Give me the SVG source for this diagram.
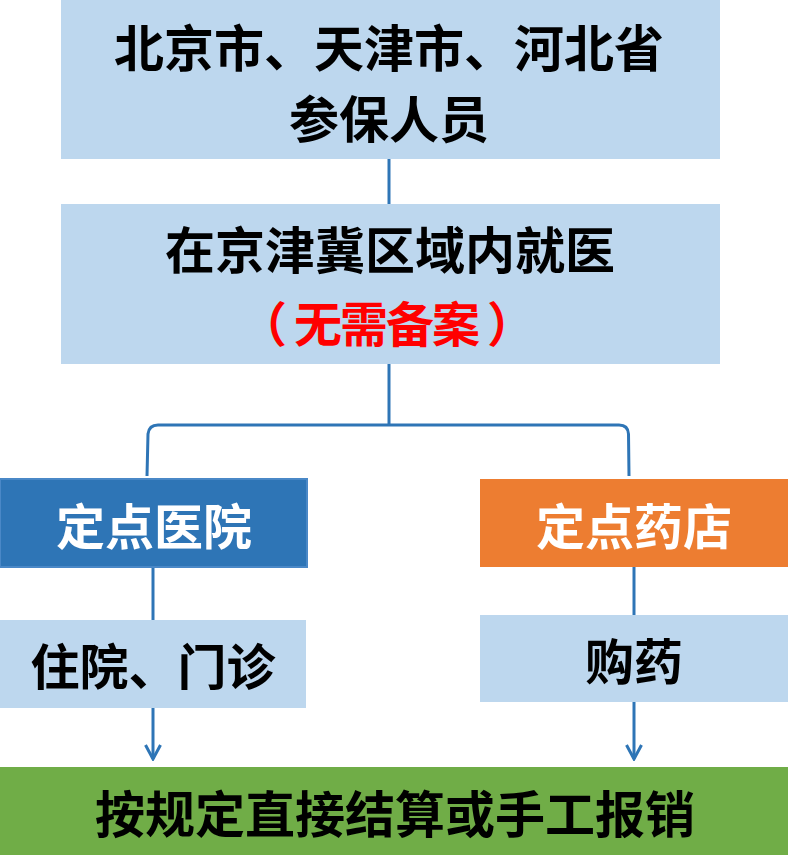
<svg xmlns="http://www.w3.org/2000/svg" width="788" height="855" viewBox="0 0 788 855">
<style>
.lb{fill:#BDD7EE}
.t{font-family:"Noto Sans CJK SC","Noto Sans CJK TC",sans-serif;font-weight:bold;text-anchor:middle;dominant-baseline:central}
.blk{fill:#000}
.wht{fill:#fff}
.red{fill:#FF0000}
.c{fill:none;stroke:#2E75B6;stroke-width:3}
</style>
<defs>
<marker id="ah" viewBox="0 0 18 18" refX="16" refY="9" markerWidth="18" markerHeight="18" markerUnits="userSpaceOnUse" orient="auto">
<path d="M2,1.5 L16,9 L2,16.5" fill="none" stroke="#2E75B6" stroke-width="3"/>
</marker>
</defs>
<rect width="788" height="855" fill="#fff"/>
<g id="connectors">
<line class="c" x1="389" y1="159" x2="389" y2="205"/>
<line class="c" x1="389" y1="364" x2="389" y2="424"/>
<path class="c" d="M147,476 L148,434 Q149,425 158,425 L619,425 Q628,425 628.5,434 L629,476"/>
<line class="c" x1="153" y1="567" x2="153" y2="621"/>
<line class="c" x1="634" y1="567" x2="634" y2="615"/>
<line class="c" x1="153" y1="707" x2="153" y2="759" marker-end="url(#ah)"/>
<line class="c" x1="634" y1="701" x2="634" y2="759" marker-end="url(#ah)"/>
</g>
<g id="n1">
<rect class="lb" x="61" y="0" width="659" height="159"/>
<text class="t blk" x="389" y="45" font-size="50">北京市、天津市、河北省</text>
<text class="t blk" x="389" y="116" font-size="50">参保人员</text>
</g>
<g id="n2">
<rect class="lb" x="61" y="204" width="659" height="160"/>
<text class="t blk" x="390" y="247" font-size="50">在京津冀区域内就医</text>
<text class="t red" x="386" y="321" font-size="48" letter-spacing="-2">（ 无需备案 ）</text>
</g>
<g id="n3">
<rect x="0" y="479" width="307" height="88" fill="#2E75B6" stroke="#4A88C7" stroke-width="2"/>
<text class="t wht" x="154" y="523" font-size="49">定点医院</text>
</g>
<g id="n4">
<rect x="480" y="479" width="308" height="88" fill="#ED7D31"/>
<text class="t wht" x="634" y="523" font-size="49">定点药店</text>
</g>
<g id="n5">
<rect class="lb" x="0" y="620" width="306" height="88"/>
<text class="t blk" x="153" y="663" font-size="49">住院、门诊</text>
</g>
<g id="n6">
<rect class="lb" x="480" y="615" width="308" height="87"/>
<text class="t blk" x="634" y="658" font-size="49">购药</text>
</g>
<g id="n7">
<rect x="0" y="767" width="788" height="88" fill="#70AD47"/>
<text class="t blk" x="395" y="811" font-size="50">按规定直接结算或手工报销</text>
</g>
</svg>
